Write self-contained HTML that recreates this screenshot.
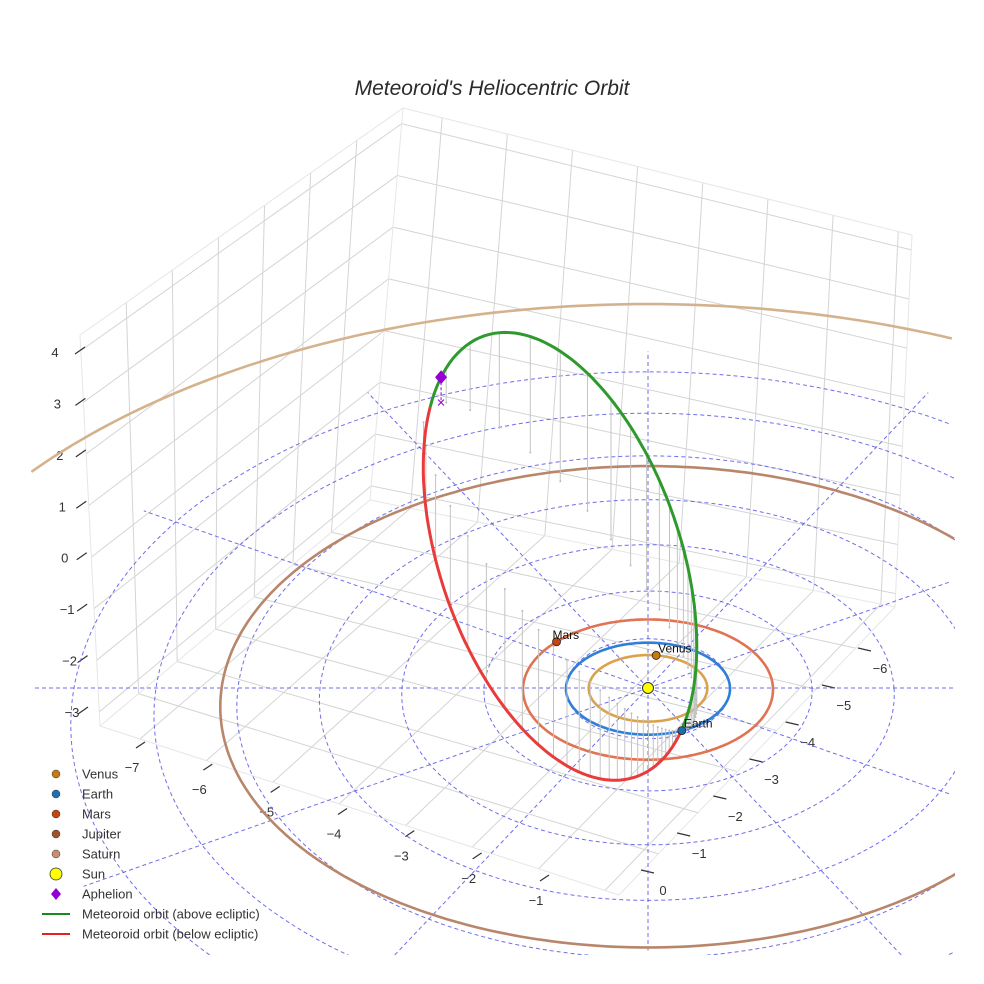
<!DOCTYPE html>
<html><head><meta charset="utf-8">
<style>
html,body{margin:0;padding:0;background:#fff;overflow:hidden;width:984px;height:984px;}
svg{display:block;font-family:"Liberation Sans",sans-serif;}
</style></head>
<body>
<svg id="chart" width="984" height="984" viewBox="0 0 984 984">
  <defs><clipPath id="clip"><rect x="30" y="60" width="925" height="895"/></clipPath></defs>
  <rect width="984" height="984" fill="#fff"/>
  <text x="492" y="95" text-anchor="middle" font-size="21" font-style="italic" fill="#2a2a2a">Meteoroid's Heliocentric Orbit</text>
  <g id="box"></g>
  <g id="axes"></g>
  <g id="plot" clip-path="url(#clip)"></g>
  <g id="legend"></g>
</svg>
<script>
// ---- data ----
const planetNames = ["Venus", "Earth", "Mars", "Jupiter", "Saturn"];
const planetRadii = [0.723, 1.0, 1.524, 5.2, 9.54];
const planetAngles = [-82, 66, -138, null, null];
const planetOrbitColors = ["#daa24c", "#2f7fd6", "#e07452", "#b8866b", "#d5b28e"];
const planetMarkerColors = ["#c77a10", "#1f6fb0", "#c8440f", "#a0522d", "#c8906a"];
const gridRadii = [1, 2, 3, 4, 5, 6, 7];
const radialAngles = [0, 30, 60, 90, 120, 150, 180, 210, 240, 270, 300, 330];
const radialLength = [7.5];
const meteorPerihelion = [1.0];
const meteorEcc = [0.762];
const meteorIncl = [108];
const meteorNode = [66.5];
const meteorArgPeri = [-4.4];
const xTickLabels = ["−7", "−6", "−5", "−4", "−3", "−2", "−1"];
const yTickLabels = ["0", "−1", "−2", "−3", "−4", "−5", "−6"];
const zTickLabels = ["4", "3", "2", "1", "0", "−1", "−2", "−3"];

const NS = "http://www.w3.org/2000/svg";
function mk(parent, tag, attrs) {
  const e = document.createElementNS(NS, tag);
  for (const k in attrs) e.setAttribute(k, attrs[k]);
  parent.appendChild(e);
  return e;
}
function proj(X, Y, Z, sy) {
  const f = 1 / (1 - 0.015 * Y);
  return [648 + 82 * X * f, 688 + (46 * (sy || 1) * Y - 52 * Z) * f];
}
function inside(p) { return p[0] >= 28 && p[0] <= 957 && p[1] >= 58 && p[1] <= 957; }
function pathFrom(pts) {
  let d = "", pen = false;
  pts.forEach(p => {
    if (!inside(p)) { pen = false; return; }
    d += (pen ? "L" : "M") + p[0].toFixed(1) + "," + p[1].toFixed(1);
    pen = true;
  });
  return d || "M0,0";
}
function circlePath(r, sy) {
  const pts = [];
  for (let a = 0; a <= 360; a += 1) {
    const t = a * Math.PI / 180;
    pts.push(proj(r * Math.cos(t), r * Math.sin(t), 0, sy));
  }
  return pathFrom(pts);
}

// ---- box (decorative axes walls) ----
const box = document.getElementById("box");
const Lt = [80, 335], Bt = [403, 108], Rt = [912, 235];
const Lb = [100, 726], Bb = [370, 500], Rb = [895, 607], Fb = [619, 895];
function lerp(a, b, t) { return [a[0] + (b[0] - a[0]) * t, a[1] + (b[1] - a[1]) * t]; }
function bil(p00, p10, p11, p01, u, v) { return lerp(lerp(p00, p10, u), lerp(p01, p11, u), v); }
function gline(a, b, col) {
  const l = mk(box, "line", {x1: a[0], y1: a[1], x2: b[0], y2: b[1], stroke: col || "#d4d4d4", "stroke-width": 1});
  
  
}
for (let k = 1; k < 7; k++) { const u = k / 7; gline(bil(Lt, Bt, Bb, Lb, u, 0), bil(Lt, Bt, Bb, Lb, u, 1)); }
for (let k = 0; k < 8; k++) { const v = 0.04 + 0.132 * k; gline(bil(Lt, Bt, Bb, Lb, 0, v), bil(Lt, Bt, Bb, Lb, 1, v)); }
for (let k = 0; k < 8; k++) { const u = 0.077 + 0.128 * k; gline(bil(Bt, Rt, Rb, Bb, u, 0), bil(Bt, Rt, Rb, Bb, u, 1)); }
for (let k = 0; k < 8; k++) { const v = 0.04 + 0.132 * k; gline(bil(Bt, Rt, Rb, Bb, 0, v), bil(Bt, Rt, Rb, Bb, 1, v)); }
for (let k = 0; k < 8; k++) { const u = 0.077 + 0.128 * k; gline(bil(Bb, Rb, Fb, Lb, u, 0), bil(Bb, Rb, Fb, Lb, u, 1)); }
for (let k = 1; k < 7; k++) { const v = k / 7; gline(bil(Bb, Rb, Fb, Lb, 0, v), bil(Bb, Rb, Fb, Lb, 1, v)); }
[[Lt, Bt], [Bt, Rt], [Bt, Bb], [Lt, Lb], [Rt, Rb], [Lb, Bb], [Bb, Rb], [Lb, Fb], [Fb, Rb]].forEach(e => gline(e[0], e[1], "#e6e6e6"));

// ---- tick labels ----
const axes = document.getElementById("axes");
function tick(tx, ty, dx, dy, lx, ly, label, name) {
  const l = mk(axes, "line", {x1: tx, y1: ty, x2: tx + dx, y2: ty + dy, stroke: "#333", "stroke-width": 1.2});
  
  
  const t = mk(axes, "text", {x: lx, y: ly, "font-size": 13, fill: "#333", "text-anchor": "middle"});
  t.textContent = label;
  
  
}
xTickLabels.forEach((s, i) => {
  const t = i / (xTickLabels.length - 1);
  const lx = 132 + (536 - 132) * t, ly = 772 + (905 - 772) * t;
  tick(lx + 13, ly - 30, -9, 6, lx, ly, s, "x-axis");
});
yTickLabels.forEach((s, i) => {
  const t = i / (yTickLabels.length - 1);
  const lx = 663 + (880 - 663) * t, ly = 895 + (673 - 895) * t;
  tick(lx - 22, ly - 25, 13, 3, lx, ly, s, "y-axis");
});
zTickLabels.forEach((s, i) => {
  const t = i / (zTickLabels.length - 1);
  const lx = 55 + (72 - 55) * t, ly = 357 + (717 - 357) * t;
  tick(75 + 3 * t, ly - 3, 10, -7, lx, ly, s, "z-axis");
});

// ---- plot ----
const plot = document.getElementById("plot");
const GS = 1.085;
gridRadii.forEach(r => {
  const p = mk(plot, "path", {d: circlePath(r, GS), fill: "none", stroke: "#5555e8", "stroke-width": 1, "stroke-dasharray": "4,3", opacity: 0.85});
  
  
});
radialAngles.forEach(a => {
  const t = a * Math.PI / 180;
  const R = radialLength[0];
  const pts = [];
  for (let s = 0; s <= 60; s++) { const r = R * s / 60; pts.push(proj(r * Math.cos(t), r * Math.sin(t), 0, GS)); }
  const p = mk(plot, "path", {d: pathFrom(pts), fill: "none", stroke: "#5555e8", "stroke-width": 1, "stroke-dasharray": "4,3", opacity: 0.85});
  
  
});
planetRadii.forEach((r, i) => {
  const p = mk(plot, "path", {d: circlePath(r), fill: "none", stroke: planetOrbitColors[i], "stroke-width": 2.6});
  
  
});

// meteoroid orbit
const q = meteorPerihelion[0], e = meteorEcc[0];
const inc = meteorIncl[0] * Math.PI / 180, Om = meteorNode[0] * Math.PI / 180, w = meteorArgPeri[0] * Math.PI / 180;
const pp = q * (1 + e);
function orbitPos(nuDeg) {
  const nu = nuDeg * Math.PI / 180;
  const r = pp / (1 + e * Math.cos(nu));
  const xp = r * Math.cos(w + nu), yp = r * Math.sin(w + nu);
  return [Math.cos(Om) * xp - Math.sin(Om) * Math.cos(inc) * yp,
          Math.sin(Om) * xp + Math.cos(Om) * Math.cos(inc) * yp,
          Math.sin(inc) * yp];
}
const nodeNu = -meteorArgPeri[0];
for (let nu = nodeNu + 6; nu < 360 + nodeNu; nu += 6) {
  const P = orbitPos(nu);
  const a = proj(P[0], P[1], P[2]), b = proj(P[0], P[1], 0);
  const l = mk(plot, "line", {x1: a[0], y1: a[1], x2: b[0], y2: b[1], stroke: "#c4c4c4", "stroke-width": 1});
  
  
  const d = mk(plot, "circle", {cx: b[0], cy: b[1], r: 1, fill: "#bbb"});
  
  
}
function arc(n0, n1) {
  const pts = [];
  for (let nu = n0; nu <= n1 + 0.001; nu += 1) { const P = orbitPos(nu); pts.push(proj(P[0], P[1], P[2])); }
  return pathFrom(pts);
}
const redArc = mk(plot, "path", {d: arc(nodeNu + 180, nodeNu + 360), fill: "none", stroke: "#e83c3c", "stroke-width": 3});


const greenArc = mk(plot, "path", {d: arc(nodeNu, nodeNu + 180), fill: "none", stroke: "#2e9a2e", "stroke-width": 3});



const AP = orbitPos(180);
const apS = proj(AP[0], AP[1], AP[2]), apG = proj(AP[0], AP[1], 0);
const apl = mk(plot, "line", {x1: apS[0], y1: apS[1], x2: apG[0], y2: apG[1], stroke: "#9400d3", "stroke-width": 1, "stroke-dasharray": "3,2"});


const apx = mk(plot, "text", {x: apG[0], y: apG[1] + 5, "text-anchor": "middle", "font-size": 15, fill: "#9400d3"});
apx.textContent = "×";


const apd = mk(plot, "path", {d: `M${apS[0]},${apS[1] - 7}L${apS[0] + 6},${apS[1]}L${apS[0]},${apS[1] + 7}L${apS[0] - 6},${apS[1]}Z`, fill: "#9400d3"});



planetAngles.forEach((ang, i) => {
  if (ang === null) return;
  const t = ang * Math.PI / 180, r = planetRadii[i];
  const s = proj(r * Math.cos(t), r * Math.sin(t), 0);
  const c = mk(plot, "circle", {cx: s[0], cy: s[1], r: 4, fill: planetMarkerColors[i], stroke: "#222", "stroke-width": 0.8});
  
  
  const tx = mk(plot, "text", {x: s[0] + (i === 2 ? -4 : 2), y: s[1] - 3, "font-size": 12, fill: "#111"});
  tx.textContent = planetNames[i];
  
  
});
const sun = proj(0, 0, 0);
const sc = mk(plot, "circle", {cx: sun[0], cy: sun[1], r: 5.5, fill: "#ffff00", stroke: "#333", "stroke-width": 1});



const lg = document.getElementById("legend");
const legendItems = ["Venus", "Earth", "Mars", "Jupiter", "Saturn", "Sun", "Aphelion", "Meteoroid orbit (above ecliptic)", "Meteoroid orbit (below ecliptic)"];
legendItems.forEach((s, i) => {
  const y = 774 + 20 * i;
  const g = mk(lg, "g", {});
  
  
  if (i < 5) mk(g, "circle", {cx: 56, cy: y, r: 4, fill: planetMarkerColors[i], stroke: "#333", "stroke-width": 0.5});
  else if (i === 5) mk(g, "circle", {cx: 56, cy: y, r: 6, fill: "#ffff00", stroke: "#333", "stroke-width": 0.8});
  else if (i === 6) mk(g, "path", {d: `M56,${y - 6}L61,${y}L56,${y + 6}L51,${y}Z`, fill: "#9400d3"});
  else mk(g, "line", {x1: 42, y1: y, x2: 70, y2: y, stroke: i === 7 ? "#1a8a1a" : "#e82020", "stroke-width": 2});
  const t = mk(g, "text", {x: 82, y: y + 4.5, "font-size": 13, fill: "#333"});
  t.textContent = s;
});
</script>
</body></html>
